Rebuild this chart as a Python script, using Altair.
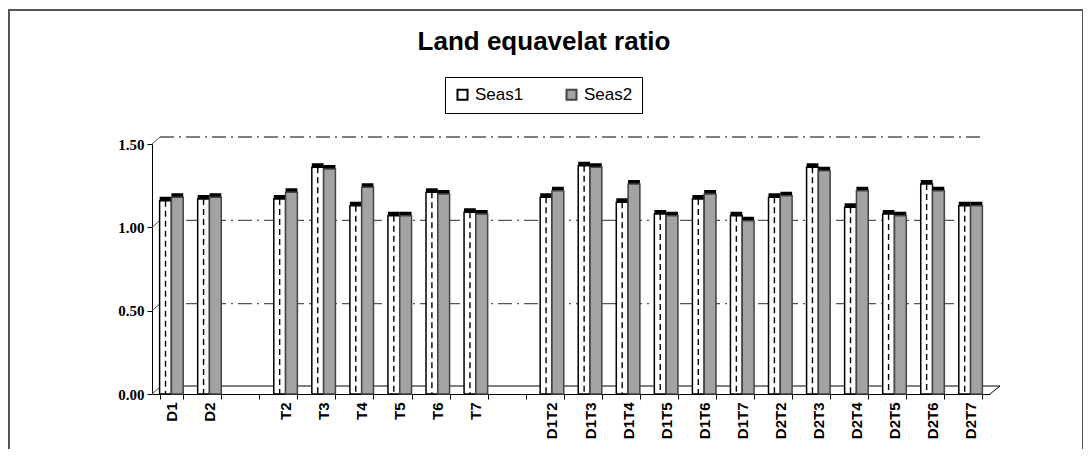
import altair as alt
import pandas as pd

categories = ["D1", "D2", "gap1", "T2", "T3", "T4", "T5", "T6", "T7", "gap2",
              "D1T2", "D1T3", "D1T4", "D1T5", "D1T6", "D1T7",
              "D2T2", "D2T3", "D2T4", "D2T5", "D2T6", "D2T7"]
seas1 = [1.16, 1.17, None, 1.17, 1.36, 1.13, 1.07, 1.21, 1.09, None,
         1.18, 1.37, 1.15, 1.08, 1.17, 1.07, 1.18, 1.36, 1.12, 1.08, 1.26, 1.13]
seas2 = [1.18, 1.18, None, 1.21, 1.35, 1.24, 1.07, 1.20, 1.08, None,
         1.22, 1.36, 1.26, 1.07, 1.20, 1.04, 1.19, 1.34, 1.22, 1.07, 1.22, 1.13]
series = ["Seas1", "Seas2"]
y_ticks = [0.0, 0.5, 1.0, 1.5]
title_text = "Land equavelat ratio"

rows = []
for c, a, b in zip(categories, seas1, seas2):
    if a is not None:
        rows.append({"cat": c, "series": "Seas1", "value": a})
    if b is not None:
        rows.append({"cat": c, "series": "Seas2", "value": b})
df = pd.DataFrame(rows)
grid_df = pd.DataFrame({"v": y_ticks})

W, H = 838, 250
yscale = alt.Scale(domain=[0, 1.5], nice=False)

xenc = alt.X("cat:N", scale=alt.Scale(domain=categories, paddingInner=0.38, paddingOuter=0.2),
             sort=categories,
             axis=alt.Axis(title=None, labelAngle=-90, labelFont="Liberation Sans",
                           labelFontWeight="bold", labelFontSize=15, labelColor="black",
                           labelExpr="indexof(datum.label, 'gap') == 0 ? '' : datum.label",
                           tickBand="extent", tickColor="black", tickSize=5,
                           domainColor="black", labelPadding=3))
yenc = alt.Y("value:Q", scale=yscale,
             axis=alt.Axis(title=None, values=y_ticks, format=".2f", grid=False,
                           labelFont="Liberation Serif", labelFontWeight="bold",
                           labelFontSize=15, labelColor="black", domainColor="black",
                           tickColor="black", tickSize=5, labelPadding=3))
xoff = alt.XOffset("series:N", scale=alt.Scale(domain=series, paddingInner=0.0))

one = alt.Data(values=[{}])

frame = alt.Chart(one).mark_rect(
    fill=None, stroke="#555555", strokeWidth=2).encode(
    x=alt.value(-143), x2=alt.value(931), y=alt.value(-134), y2=alt.value(340))

title = alt.Chart(one).mark_text(
    text=title_text, font="Liberation Sans", fontSize=26, fontWeight="bold",
    color="black", align="center", baseline="alphabetic").encode(
    x=alt.value(392), y=alt.value(-94))

grid = alt.Chart(grid_df).transform_filter("datum.v > 0").mark_rule(
    color="#555555", strokeDash=[14, 5, 2, 5], strokeWidth=1.3, yOffset=-7, y2Offset=-7).encode(
    y=alt.Y("v:Q", scale=yscale), x=alt.value(8), x2=alt.value(830))

floor = alt.Chart(grid_df).transform_filter("datum.v == 0").mark_rule(
    color="black", strokeWidth=1, yOffset=-8, y2Offset=-8).encode(
    y=alt.Y("v:Q", scale=yscale), x=alt.value(8), x2=alt.value(848))

diag = alt.Chart(grid_df).mark_rule(color="#555555", strokeWidth=1, y2Offset=-7).encode(
    y=alt.Y("v:Q", scale=yscale), y2=alt.Y2("v:Q"), x=alt.value(0), x2=alt.value(8))

diag_r = alt.Chart(grid_df).transform_filter("datum.v == 0").mark_rule(
    color="black", strokeWidth=1, y2Offset=-8).encode(
    y=alt.Y("v:Q", scale=yscale), y2=alt.Y2("v:Q"), x=alt.value(838), x2=alt.value(848))

shadow = alt.Chart(df).mark_bar(color="black", xOffset=3, yOffset=-4, x2Offset=3).encode(
    x=xenc, xOffset=xoff, y=yenc)

bars = alt.Chart(df).mark_bar(strokeWidth=1.5).encode(
    x=xenc, xOffset=xoff, y=yenc,
    color=alt.Color("series:N", scale=alt.Scale(domain=series, range=["white", "#a3a3a3"]),
                    legend=alt.Legend(title=None, orient="none", legendX=293, legendY=-67,
                                      direction="horizontal", strokeColor="black",
                                      fillColor="white", padding=9, symbolType="square",
                                      symbolSize=100, symbolStrokeColor="black",
                                      symbolStrokeWidth=2, labelFont="Liberation Sans",
                                      labelFontSize=17, labelColor="black",
                                      columnPadding=38, labelOffset=4)),
    stroke=alt.Stroke("series:N", scale=alt.Scale(domain=series, range=["black", "#444444"]),
                      legend=None))

dash = alt.Chart(df).transform_filter("datum.series == 'Seas1'").mark_rule(
    color="black", strokeDash=[6, 4], strokeWidth=1.4, xOffset=5).encode(
    x=xenc, xOffset=xoff, y=yenc, y2=alt.datum(0))

chart = alt.layer(frame, title, grid, diag, floor, diag_r, shadow, bars, dash).properties(
    width=W, height=H,
    autosize=alt.AutoSizeParams(type="none"),
    padding={"left": 144, "top": 136, "right": 93, "bottom": 55},
).configure_view(stroke=None)

chart.save("out.html", embed_options={"renderer": "svg", "actions": False})
